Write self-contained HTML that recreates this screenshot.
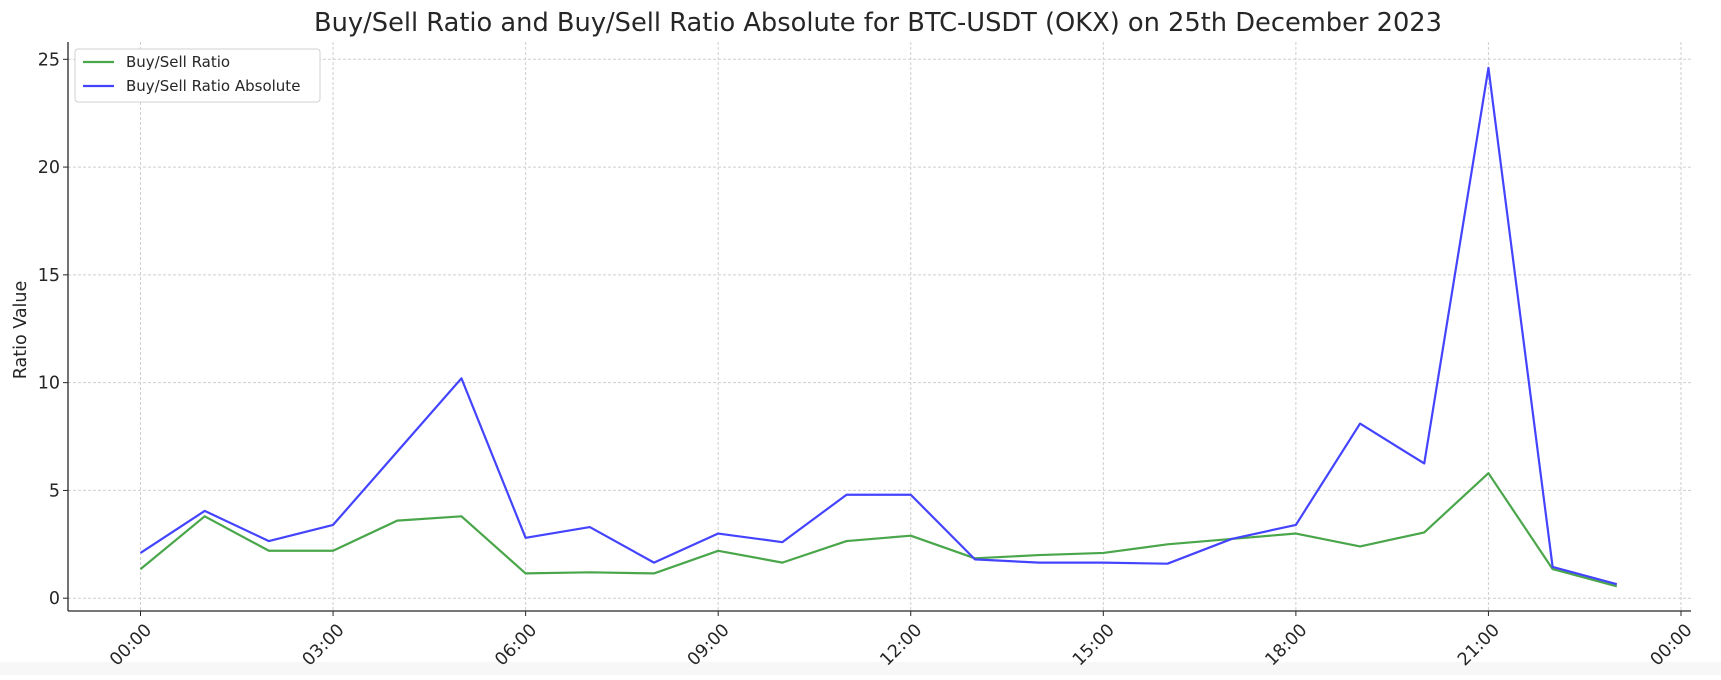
<!DOCTYPE html>
<html><head><meta charset="utf-8"><style>
body{margin:0;background:#fff;width:1721px;height:675px;overflow:hidden;font-family:"Liberation Sans","DejaVu Sans",sans-serif}
svg text{font-family:"DejaVu Sans","Liberation Sans",sans-serif;fill:#262626}
</style></head><body>
<svg id="chart" width="1721" height="675" xmlns="http://www.w3.org/2000/svg">
<rect x="0" y="0" width="1721" height="675" fill="#fff"/>
<rect x="0" y="662" width="1721" height="13" fill="#f7f7f7"/>
<text x="878" y="31" font-size="25.7" text-anchor="middle" fill="#333">Buy/Sell Ratio and Buy/Sell Ratio Absolute for BTC-USDT (OKX) on 25th December 2023</text>
<g id="grid"></g><g id="series"></g><g id="axes"></g>
<text transform="translate(26,330) rotate(-90)" font-size="17.5" text-anchor="middle">Ratio Value</text>
<g>
<rect x="75" y="49" width="245" height="53" rx="3" fill="#fff" stroke="#d0d0d0"/>
<line x1="83" y1="62" x2="114" y2="62" stroke="#4aa64a" stroke-width="2.2"/>
<text x="126" y="67" font-size="15">Buy/Sell Ratio</text>
<line x1="83" y1="86" x2="114" y2="86" stroke="#4444ff" stroke-width="2.2"/>
<text x="126" y="91" font-size="15">Buy/Sell Ratio Absolute</text>
</g>
</svg>
<script>
const hours=[0,1,2,3,4,5,6,7,8,9,10,11,12,13,14,15,16,17,18,19,20,21,22,23];
const ratio=[1.35,3.8,2.2,2.2,3.6,3.8,1.15,1.2,1.15,2.2,1.65,2.65,2.9,1.85,2.0,2.1,2.5,2.75,3.0,2.4,3.05,5.8,1.35,0.55];
const ratioAbs=[2.1,4.05,2.65,3.4,6.8,10.2,2.8,3.3,1.65,3.0,2.6,4.8,4.8,1.8,1.65,1.65,1.6,2.75,3.4,8.1,6.25,24.6,1.45,0.65];
const xTicks=[0,3,6,9,12,15,18,21,24];
const xTickLabels=["00:00","03:00","06:00","09:00","12:00","15:00","18:00","21:00","00:00"];
const yTicks=[0,5,10,15,20,25];
const NS="http://www.w3.org/2000/svg";
const L=68,R=1691,T=42,B=611;
function xs(h){return 140.5+h*(1681-140.5)/24;}
function ys(v){return 598.2-v*(598.2-59.3)/25;}
function mk(t,a,p){const e=document.createElementNS(NS,t);for(const k in a)e.setAttribute(k,a[k]);p.appendChild(e);return e;}
const grid=document.getElementById('grid'),axes=document.getElementById('axes'),ser=document.getElementById('series');
xTicks.forEach((h,i)=>{
 const g=mk('line',{x1:xs(h),x2:xs(h),y1:T,y2:B,stroke:'#cfcfcf','stroke-dasharray':'3,2','stroke-width':1},grid);
 
 
 mk('line',{x1:xs(h),x2:xs(h),y1:B,y2:B+5,stroke:'#262626'},axes);
 const t=mk('text',{'font-size':17.5,'text-anchor':'end',transform:`translate(${xs(h)+12},${B+20}) rotate(-45)`},axes);
 t.textContent=xTickLabels[i];
 
 
});
yTicks.forEach(v=>{
 const g=mk('line',{x1:L,x2:R,y1:ys(v),y2:ys(v),stroke:'#cfcfcf','stroke-dasharray':'3,2','stroke-width':1},grid);
 
 
 mk('line',{x1:L-5,x2:L,y1:ys(v),y2:ys(v),stroke:'#262626'},axes);
 const t=mk('text',{x:L-8,y:ys(v)+6,'font-size':17.5,'text-anchor':'end'},axes);
 t.textContent=v;
 
 
});
const la=mk('line',{x1:L,x2:L,y1:T,y2:B,stroke:'#262626','stroke-width':1.3},axes);


const ba=mk('line',{x1:L,x2:R,y1:B,y2:B,stroke:'#262626','stroke-width':1.3},axes);


function line(vals,color,name){
 const p=mk('polyline',{points:vals.map((v,i)=>xs(hours[i])+','+ys(v)).join(' '),fill:'none',stroke:color,'stroke-width':2.2,'stroke-linejoin':'round'},ser);
 
 
}
line(ratio,'#4aa64a','ratio-line');
line(ratioAbs,'#4444ff','ratio-absolute-line');
</script>
</body></html>
